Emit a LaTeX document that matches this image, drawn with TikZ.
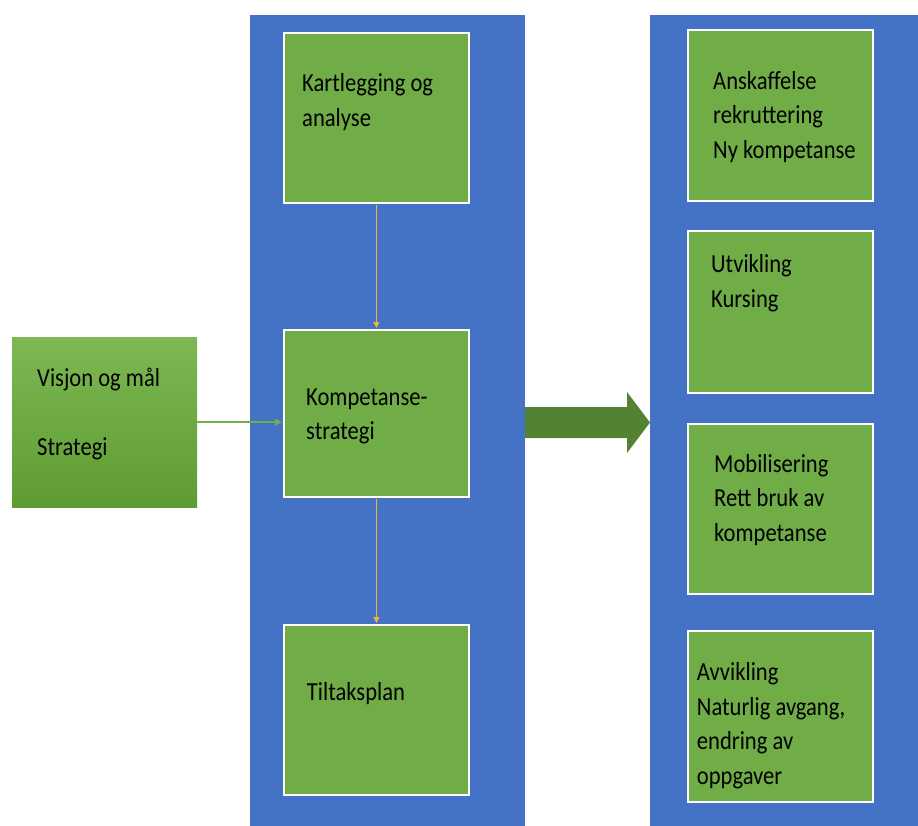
\documentclass[tikz,border=0pt]{standalone}
\usepackage{fontspec}
\setmainfont{Carlito}
\usepackage{graphicx}
\usetikzlibrary{arrows.meta}
\definecolor{panelblue}{HTML}{4472C4}
\definecolor{boxgreen}{HTML}{70AD47}
\definecolor{bigarrow}{HTML}{548235}
\definecolor{goldline}{HTML}{F2B33D}
\definecolor{gradtop}{HTML}{7DB852}
\definecolor{gradbot}{HTML}{5E9C32}
\newcommand{\boxtext}[1]{\scalebox{1}[1.15]{\fontsize{22.6pt}{30pt}\selectfont\begin{tabular}[t]{@{}l@{}}#1\end{tabular}}}
\begin{document}
\begin{tikzpicture}[x=1pt,y=-1pt,
  panel/.style={fill=panelblue,draw=none},
  gbox/.style={rectangle,fill=boxgreen,draw=white,line width=1.8pt,anchor=north west,inner sep=0pt},
  txt/.style={anchor=base west,inner sep=0pt,text=black},
  gold/.style={draw=goldline,line width=1.4pt,-{Triangle[length=6pt,width=6pt]}},
  greenarrow/.style={draw=boxgreen,line width=2pt,-{Triangle[length=7pt,width=7pt]}}]
\useasboundingbox (0,0) rectangle (918,826);
\fill[white] (0,0) rectangle (918,826);
% panels
\fill[panel] (250,15) rectangle (525,826);
\fill[panel] (650,15) rectangle (918,826);
% left box
\node[rectangle,anchor=north west,inner sep=0pt,minimum width=185pt,minimum height=170pt,top color=gradtop,bottom color=gradbot,draw=none] (vis) at (12,337) {};
% middle boxes
\node[gbox,minimum width=185pt,minimum height=170pt] (kart) at (283,32) {};
\node[gbox,minimum width=185pt,minimum height=167pt] (komp) at (283,329) {};
\node[gbox,minimum width=185pt,minimum height=170pt] (tilt) at (283,624) {};
% right boxes
\node[gbox,minimum width=185pt,minimum height=171pt] (ansk) at (687,29) {};
\node[gbox,minimum width=185pt,minimum height=162pt] (utv) at (687,230) {};
\node[gbox,minimum width=185pt,minimum height=170pt] (mob) at (687,423) {};
\node[gbox,minimum width=185pt,minimum height=171pt] (avv) at (687,630) {};
% texts
\node[txt] (tvis) at (37,386.7) {\boxtext{Visjon og mål\\[0pt] \\ Strategi}};
\node[txt] (tkart) at (302,91.7) {\boxtext{Kartlegging og\\analyse}};
\node[txt] (tkomp) at (306,405) {\boxtext{Kompetanse-\\strategi}};
\node[txt] (ttilt) at (306.7,700) {\boxtext{Tiltaksplan}};
\node[txt] (tansk) at (713,89.3) {\boxtext{Anskaffelse\\rekruttering\\Ny kompetanse}};
\node[txt] (tutv) at (711,272.7) {\boxtext{Utvikling\\Kursing}};
\node[txt] (tmob) at (714,472.3) {\boxtext{Mobilisering\\Rett bruk av\\kompetanse}};
\node[txt] (tavv) at (696.7,680.7) {\boxtext{Avvikling\\Naturlig avgang,\\endring av\\oppgaver}};
% connectors
\draw[gold] ([yshift=-1pt]kart.south) -- ([yshift=1pt]komp.north);
\draw[gold] ([yshift=-1pt]komp.south) -- ([yshift=1pt]tilt.north);
\draw[greenarrow] (vis.east) -- ([xshift=-1pt]komp.west |- vis.east);
% big arrow
\fill[bigarrow] (525,407) -- (627,407) -- (627,392) -- (650,422.5) -- (627,453) -- (627,438) -- (525,438) -- cycle;
\end{tikzpicture}
\end{document}
